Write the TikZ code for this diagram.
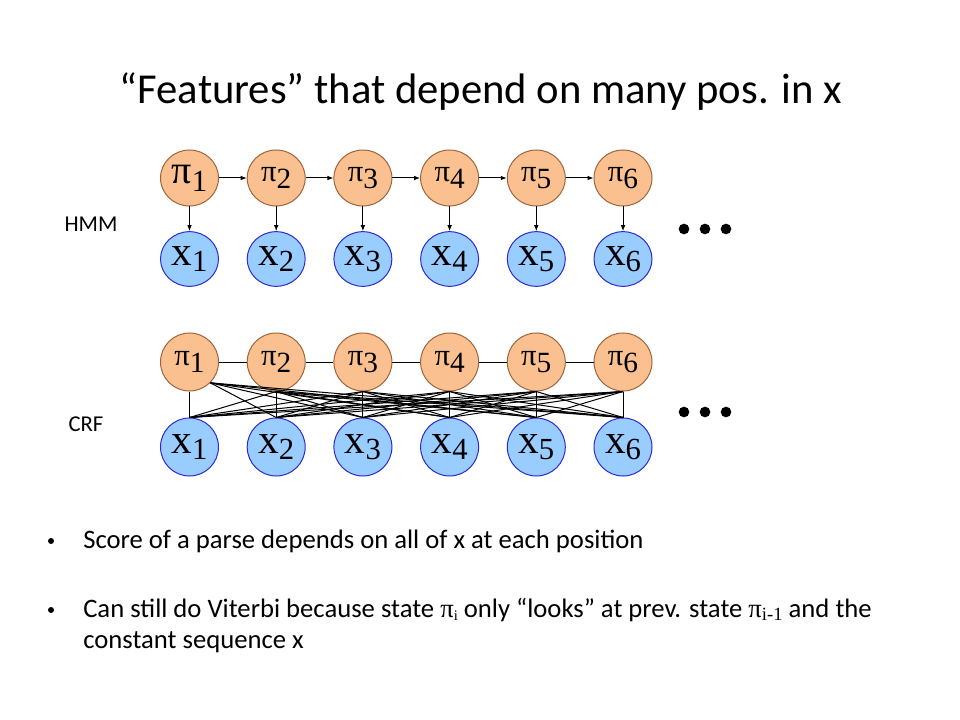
\documentclass[tikz,border=0pt]{standalone}
\usepackage{fontspec}
\setmainfont{Carlito}
\newfontfamily\tnr{Liberation Serif}
\usetikzlibrary{arrows.meta,shapes.geometric}
\definecolor{pifill}{HTML}{FAC090}
\definecolor{pidraw}{HTML}{A0643C}
\definecolor{xfill}{HTML}{99CCFF}
\definecolor{xdraw}{HTML}{2B2BD0}
\newcommand{\pilab}[3]{{\tnr\fontsize{#1}{#1}\selectfont π\raisebox{-0.45ex}{\fontsize{#2}{#2}\selectfont #3}}}
\newcommand{\xlab}[1]{{\tnr\fontsize{31}{31}\selectfont x\raisebox{-0.35ex}{\fontsize{23}{23}\selectfont #1}}}
\tikzset{
  pinode/.style={ellipse,draw=pidraw,fill=pifill,line width=0.75pt,minimum width=43.5pt,minimum height=42pt,inner sep=0pt},
  xnode/.style={ellipse,draw=xdraw,fill=xfill,line width=0.75pt,minimum width=43.5pt,minimum height=41pt,inner sep=0pt},
  edge/.style={line width=0.75pt,black},
  arr/.style={edge,-{Latex[length=4.5pt,width=3.5pt]}},
  dot/.style={circle,fill=black,minimum size=8pt,inner sep=0pt},
  lbl/.style={font=\fontsize{17}{18}\selectfont,inner sep=0pt}
}
\begin{document}
\begin{tikzpicture}[x=0.75pt,y=-0.75pt]
\useasboundingbox (0,0) rectangle (960,720);
% title
\node[font=\fontsize{32}{36}\selectfont,inner sep=0pt] (title) at (481,92) {“Features” that depend on many pos. in x};
% HMM
\node[lbl] (hmm) at (91,224) {HMM};
\foreach \i/\cx in {1/189.5,2/276.2,3/362.9,4/449.6,5/536.3,6/623} {
  \ifnum\i=1
    \node[pinode] (hp\i) at (\cx,178) {\pilab{30}{23}{\i}};
  \else
    \node[pinode] (hp\i) at (\cx,178) {\pilab{23}{22}{\i}};
  \fi
  \node[xnode] (hx\i) at (\cx,259) {\xlab{\i}};
  \draw[arr] (hp\i) -- (hx\i);
}
\foreach \i/\j in {1/2,2/3,3/4,4/5,5/6} {
  \draw[arr] (hp\i) -- (hp\j);
}
\node[dot] (hd1) at (684,229) {};
\node[dot] (hd2) at (705,229) {};
\node[dot] (hd3) at (726,229) {};
% CRF
\node[lbl] (crf) at (86,424) {CRF};
\foreach \i/\cx in {1/189.5,2/276.2,3/362.9,4/449.6,5/536.3,6/623} {
  \node[pinode,minimum height=43.5pt] (cp\i) at (\cx,362) {\pilab{23}{22}{\i}};
  \node[xnode,minimum height=43.5pt] (cx\i) at (\cx,447) {\xlab{\i}};
}
\foreach \i/\j in {1/2,2/3,3/4,4/5,5/6} {
  \draw[edge] (cp\i) -- (cp\j);
}
\foreach \i in {1,...,6} {
  \foreach \j in {1,...,6} {
    \ifnum\i=\j
      \draw[edge] (cp\i.south) -- (cx\j.north);
    \else
      \ifnum\i=1
        \draw[edge] (cp\i.south east) -- (cx\j.north);
      \else
        \draw[edge] (cp\i.south) -- (cx\j.north);
      \fi
    \fi
  }
}
\node[dot] (cd1) at (684,412) {};
\node[dot] (cd2) at (705,412) {};
\node[dot] (cd3) at (726,412) {};
% bullets
\node[circle,fill=black,minimum size=4.5pt,inner sep=0pt] (b1) at (51,541) {};
\node[font=\fontsize{20}{24}\selectfont,anchor=base west,inner sep=0pt] (t1) at (83,548) {Score of a parse depends on all of x at each position};
\node[circle,fill=black,minimum size=4.5pt,inner sep=0pt] (b2) at (51,610) {};
\node[font=\fontsize{20}{24}\selectfont,anchor=base west,inner sep=0pt] (t2) at (83,617) {Can still do Viterbi because state {\tnr π\raisebox{-0.3ex}{\fontsize{11}{11}\selectfont i}} only “looks” at prev. state {\tnr π\raisebox{-0.3ex}{\fontsize{14}{14}\selectfont i-1}} and the};
\node[font=\fontsize{20}{24}\selectfont,anchor=base west,inner sep=0pt] (t3) at (83,648) {constant sequence x};
\end{tikzpicture}
\end{document}
